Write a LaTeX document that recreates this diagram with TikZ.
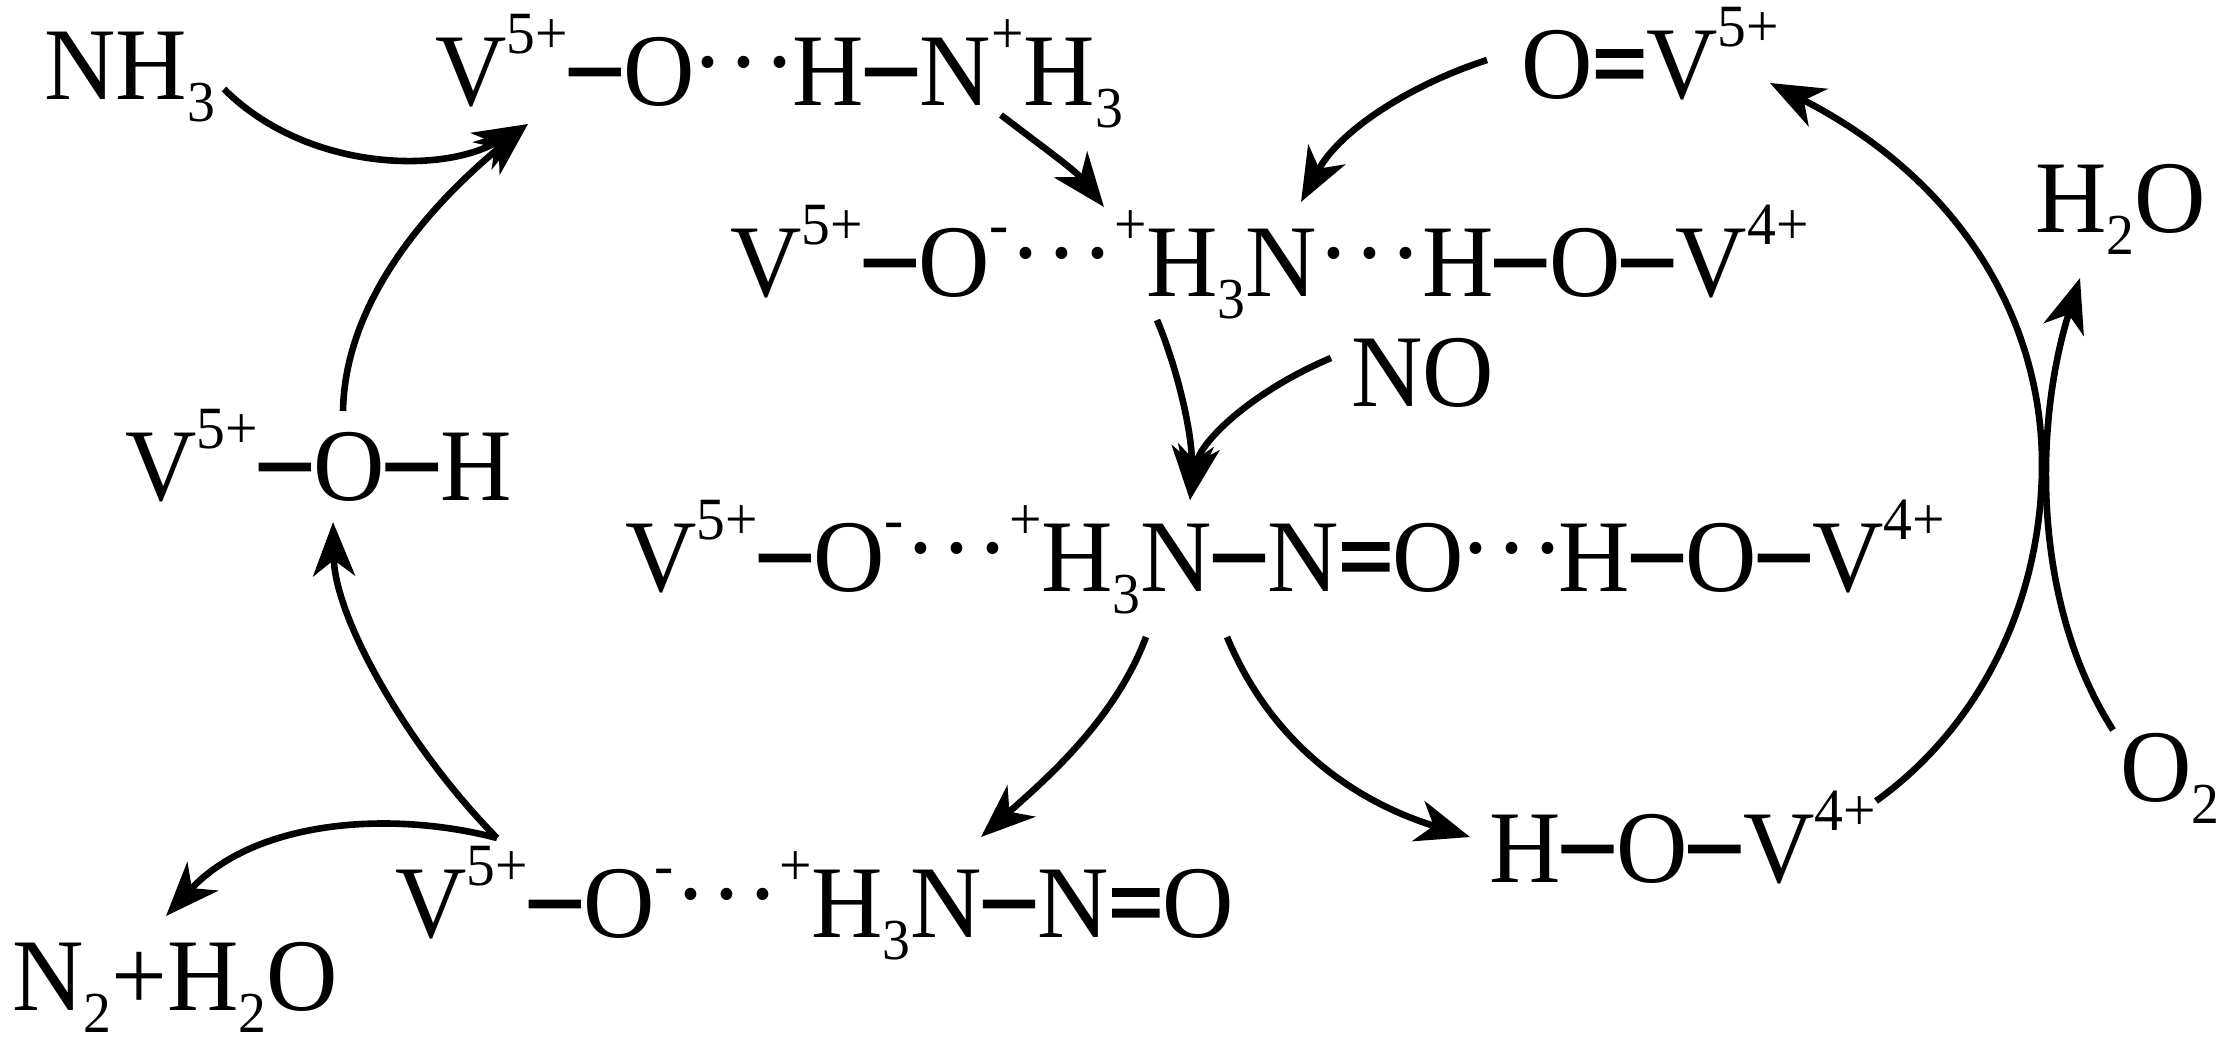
\documentclass[tikz,border=0pt]{standalone}
\usepackage{fontspec}
\setmainfont[FakeStretch=0.96]{Liberation Serif}
\newfontface\bondfont[FakeBold=1.5,FakeStretch=0.96]{Liberation Serif Bold}
\usetikzlibrary{arrows.meta}

\begin{document}
\begin{tikzpicture}[x=0.5pt,y=-0.5pt,
    chem/.style={anchor=base west,inner sep=0pt,font=\fontsize{51.5}{60}\selectfont},
    rxn/.style={line width=3.3pt,-{Stealth[length=27pt,width=21pt,inset=8pt]}}]
\def\up#1{\raisebox{26pt}{\fontsize{30}{30}\selectfont #1}}
\def\dn#1{\raisebox{-11pt}{\fontsize{29}{29}\selectfont #1}}
\def\sbond{\kern1pt\raisebox{4.5pt}{\bondfont –}\kern2pt}
\def\dbond{\kern-.5pt{\bondfont =}\kern-1pt}
\def\hb{\raisebox{4.5pt}{·\kern.03em·\kern.03em·}}
\useasboundingbox (0,0) rectangle (2224,1041);

%Species round the cycle
\node[chem] (nh3) at (44,99) {NH\dn{3}};
\node[chem] (row1) at (435,105) {V\up{5+}\sbond O\kern-1.5pt\hb\kern-2pt H\sbond N\up{+}H\dn{3}};
\node[chem] (ov) at (1521,98) {O\dbond V\up{5+}};
\node[chem] (h2o) at (2035,232) {H\dn{2}O};
\node[chem] (row2) at (730,296) {V\up{5+}\sbond O\up{-}\hb\up{+}H\dn{3}N\hb H\sbond O\sbond V\up{4+}};
\node[chem] (no) at (1351,406) {NO};
\node[chem] (voh) at (125,500) {V\up{5+}\sbond O\sbond H};
\node[chem] (row3) at (625,591) {V\up{5+}\sbond O\up{-}\hb\up{+}H\dn{3}N\sbond N\dbond O\kern-2pt\hb\kern-3pt H\sbond O\sbond V\up{4+}};
\node[chem] (o2) at (2120,801) {O\dn{2}};
\node[chem] (hov) at (1489,882) {H\sbond O\sbond V\up{4+}};
\node[chem] (row4) at (395,937) {V\up{5+}\sbond O\up{-}\hb\up{+}H\dn{3}N\sbond N\dbond O};
\node[chem] (n2) at (12,1010) {N\dn{2}+H\dn{2}O};

%Point where the big arc meets the O2 arrow
\coordinate (arcmid) at (2042,470);

%Arrows, left side
\draw[rxn] ([shift={(180,-10)}]nh3.base west) .. controls +(81,81) and +(-88,51) .. ([shift={(93,19)}]row1.base west);
\draw[rxn] ([shift={(218,-89)}]voh.base west) .. controls +(2,-111) and +(-98,81) .. ([shift={(93,19)}]row1.base west);
\draw[rxn] ([shift={(102,-99)}]row4.base west) .. controls +(-87,-88) and +(2,98) .. ([shift={(208,22)}]voh.base west);
\draw[rxn] ([shift={(102,-99)}]row4.base west) .. controls +(-107,-28) and +(89,-96) .. ([shift={(154,-94)}]n2.base west);

%Arrows, middle
\draw[rxn] ([shift={(566,10)}]row1.base west) .. controls +(39,30) and +(-29,-37) .. ([shift={(374,-89)}]row2.base west);
\draw[rxn] ([shift={(-34,-38)}]ov.base west) .. controls +(-77,25) and +(39,-72) .. ([shift={(571,-94)}]row2.base west);
\draw[rxn] ([shift={(427,24)}]row2.base west) .. controls +(23,55) and +(3,-60) .. ([shift={(565,-91)}]row3.base west);
\draw[rxn] ([shift={(-20,-48)}]no.base west) .. controls +(-76,32) and +(10,-60) .. ([shift={(565,-91)}]row3.base west);
\draw[rxn] ([shift={(521,46)}]row3.base west) .. controls +(-31,83) and +(64,-57) .. ([shift={(586,-100)}]row4.base west);
\draw[rxn] ([shift={(602,46)}]row3.base west) .. controls +(43,103) and +(-120,-37) .. ([shift={(-19,-45)}]hov.base west);

%Arrows, right side
\draw[rxn] ([shift={(387,-81)}]hov.base west) .. controls +(99,-71) and +(-2,140) .. (arcmid)
  .. controls +(2,-150) and +(190,97) .. ([shift={(249,-15)}]ov.base west);
\draw[rxn] ([shift={(-7,-71)}]o2.base west) .. controls +(-83,-130) and +(-45,142) .. ([shift={(45,46)}]h2o.base west);

\end{tikzpicture}
\end{document}
